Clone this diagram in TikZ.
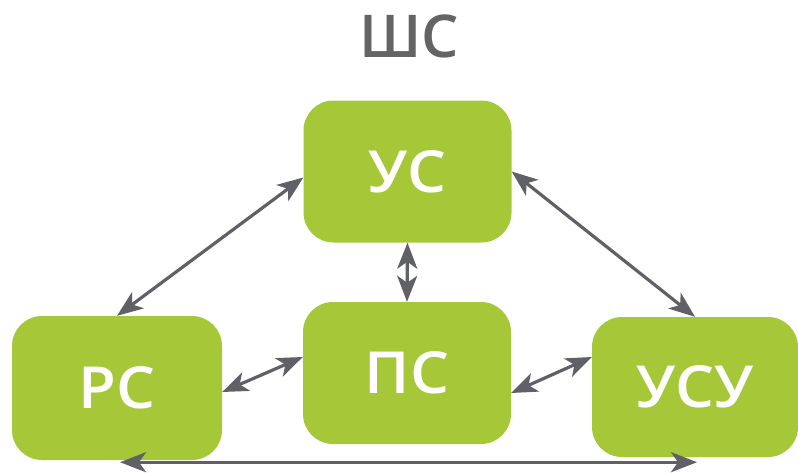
\documentclass[tikz,border=0pt]{standalone}
\usepackage{fontspec}
\setmainfont{Open Sans}
\newfontfamily\titlefont{Open Sans Semibold}
\newfontfamily\boxfont[FakeStretch=1.06]{Open Sans Semibold}
\usetikzlibrary{arrows.meta,calc}
\definecolor{boxgreen}{RGB}{166,200,56}
\definecolor{arrgrey}{RGB}{95,97,102}
\definecolor{titlegrey}{RGB}{100,100,100}
\tikzset{
  sysbox/.style={fill=boxgreen, draw=none, rounded corners=30pt, minimum width=208pt, minimum height=142pt,
    inner sep=0pt, text=white, font=\boxfont\fontsize{58}{58}\selectfont},
  biarrow/.style={draw=arrgrey, line width=3.2pt, {Stealth[length=26pt,width=20pt,inset=7pt]}-{Stealth[length=26pt,width=20pt,inset=7pt]}}
}
\begin{document}
\begin{tikzpicture}[x=1pt,y=-1pt]
\useasboundingbox (0,0) rectangle (798,472);
\node[text=titlegrey, font=\titlefont\fontsize{59}{59}\selectfont] (title) at (409,36) {ШС};
\node[sysbox] (us) at (407.5,171.5) {УС};
\node[sysbox] (ps) at (407,373) {ПС};
\node[sysbox, minimum width=210pt, minimum height=144pt] (rs) at (117,388) {РС};
\node[sysbox, minimum width=206pt, minimum height=140pt] (usu) at (695,387) {УСУ};
\draw[biarrow] ([yshift=-6pt]us.west) -- (rs.north);
\draw[biarrow] (us.east) -- (usu.north);
\draw[biarrow] (us.south) -- (ps.north);
\draw[biarrow] ([yshift=-4pt]rs.east) -- ([yshift=16pt]ps.west);
\draw[biarrow] ([yshift=-20pt]ps.east) -- ([yshift=30pt]usu.west);
\draw[biarrow] ([xshift=3pt,yshift=-2pt]rs.south) -- ([xshift=2pt,yshift=-2pt]rs.south -| usu.south);
\end{tikzpicture}
\end{document}
